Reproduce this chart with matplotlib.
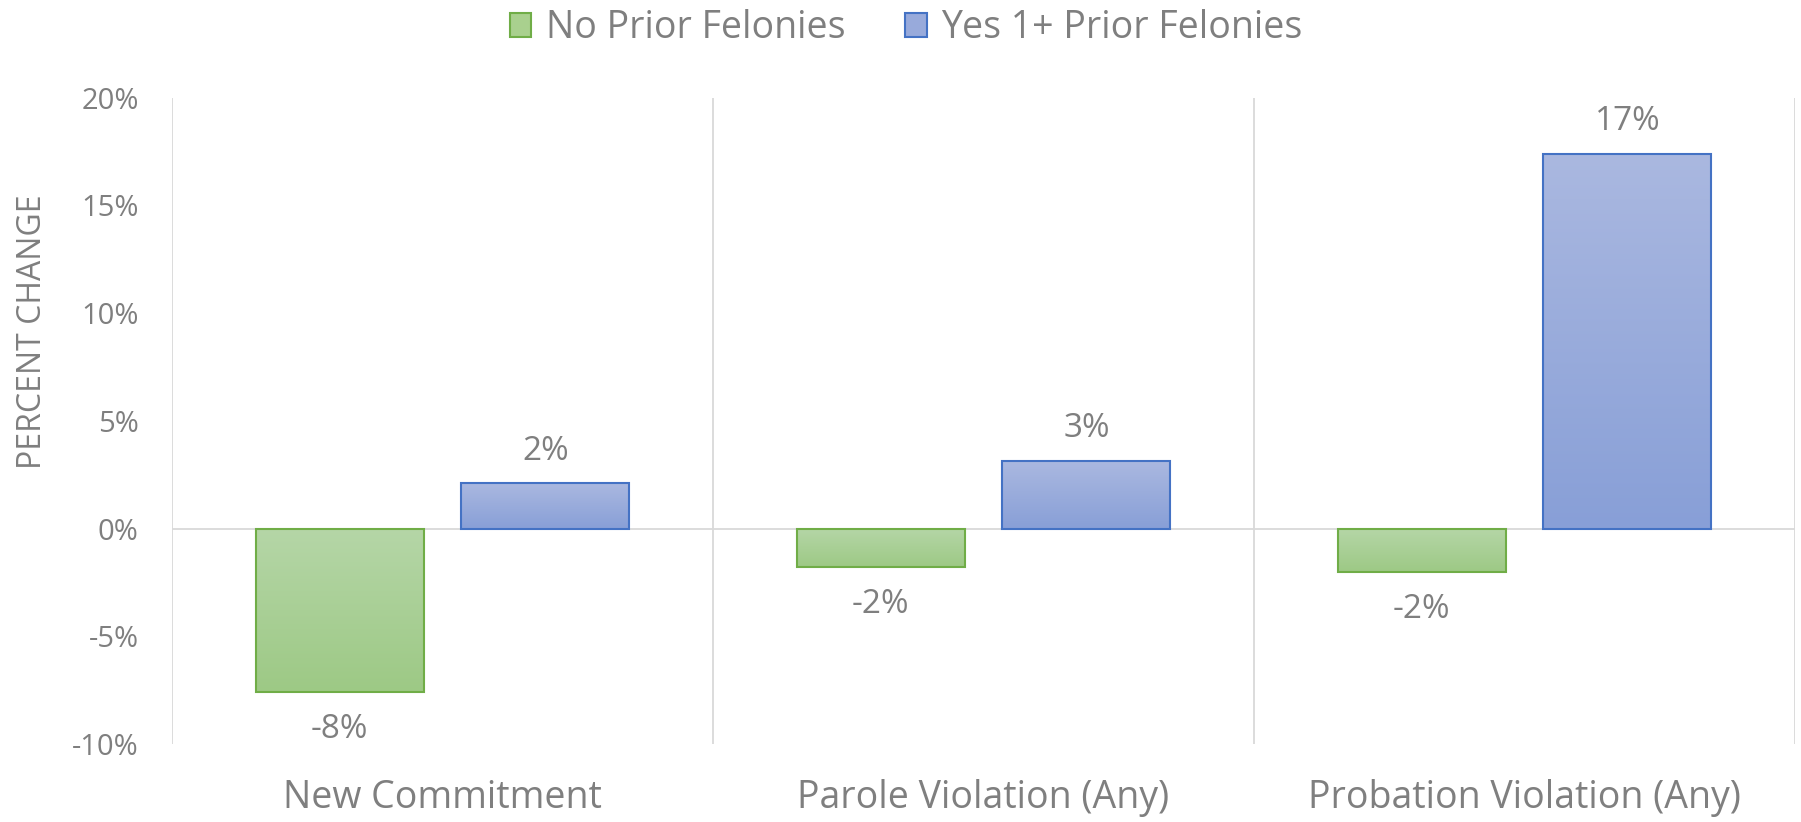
import matplotlib
matplotlib.use("Agg")
import matplotlib.pyplot as plt
import numpy as np
from matplotlib.colors import LinearSegmentedColormap
from matplotlib.patches import Patch

categories = ["New Commitment", "Parole Violation (Any)", "Probation Violation (Any)"]
no_prior = [-7.6, -1.8, -2.0]
yes_prior = [2.1, 3.15, 17.4]
series_names = ["No Prior Felonies", "Yes 1+ Prior Felonies"]
yticks = [-10, -5, 0, 5, 10, 15, 20]

TXT = "#7f7f7f"
GRID = "#d9d9d9"
FONT = "Open Sans"

fig = plt.figure(figsize=(18.01, 8.22), dpi=100)
ax = fig.add_axes([0.0955, 0.0949, 0.9012, 0.7864])

x = np.arange(len(categories))
w = 0.31
off = 0.19
b1 = ax.bar(x - off, no_prior, w, facecolor="#a9d08e", edgecolor="#70ad47", linewidth=1.5, zorder=3)
b2 = ax.bar(x + off, yes_prior, w, facecolor="#98aadb", edgecolor="#4472c4", linewidth=1.5, zorder=3)

ax.set_xlim(-0.5, 2.5)
ax.set_ylim(-10, 20)

# gradients (top lighter -> bottom darker)
gcm = LinearSegmentedColormap.from_list("g", ["#b5d6a7", "#9dc985"])
bcm = LinearSegmentedColormap.from_list("b", ["#aab8e0", "#889fd7"])
grad = np.linspace(0, 1, 256).reshape(-1, 1)
for bars, cm in ((b1, gcm), (b2, bcm)):
    for p in bars:
        x0, y0 = p.get_x(), p.get_y()
        ww, hh = p.get_width(), p.get_height()
        ylo, yhi = min(y0, y0 + hh), max(y0, y0 + hh)
        im = ax.imshow(grad, cmap=cm, aspect="auto", extent=(x0, x0 + ww, ylo, yhi),
                       origin="upper", zorder=3.5)
        im.set_clip_path(p)
        p.set_facecolor("none")
        p.set_zorder(4)

ax.set_xlim(-0.5, 2.5)
ax.set_ylim(-10, 20)

# data labels
for bars, vals in ((b1, no_prior), (b2, yes_prior)):
    for p, v in zip(bars, vals):
        cx = p.get_x() + p.get_width() / 2
        dy = 23 if v >= 0 else -27
        ax.annotate(f"{round(v):.0f}%", (cx, v), xytext=(0, dy), textcoords="offset points",
                    ha="center", va="center", fontsize=24, color=TXT, family=FONT)

# grid/separators
for s in ax.spines.values():
    s.set_visible(False)
for xv in [-0.5, 0.5, 1.5, 2.5]:
    ax.axvline(xv, color=GRID, linewidth=1.3, zorder=1)
ax.axhline(0, color=GRID, linewidth=1.3, zorder=2)

ax.set_yticks(yticks)
ax.set_yticklabels([f"{t}%" for t in yticks], fontsize=21, color=TXT, family=FONT)
ax.set_xticks(x)
ax.set_xticklabels(categories, fontsize=27, color=TXT, family=FONT)
ax.tick_params(axis="both", length=0)
ax.tick_params(axis="y", pad=24)
ax.tick_params(axis="x", pad=25)

fig.text(0.0178, 0.596, "PERCENT CHANGE", rotation=90, ha="center", va="center",
         fontsize=23, color=TXT, family=FONT)

handles = [Patch(facecolor="#a9d08e", edgecolor="#70ad47", linewidth=1.5),
           Patch(facecolor="#98aadb", edgecolor="#4472c4", linewidth=1.5)]
leg = fig.legend(handles, series_names, loc="upper center", bbox_to_anchor=(0.503, 1.03),
                 ncol=2, frameon=False, prop={"family": FONT, "size": 27},
                 handlelength=0.58, handleheight=0.58, handletextpad=0.38, columnspacing=1.6)
for t in leg.get_texts():
    t.set_color(TXT)

fig.savefig("out.png", dpi=100)
